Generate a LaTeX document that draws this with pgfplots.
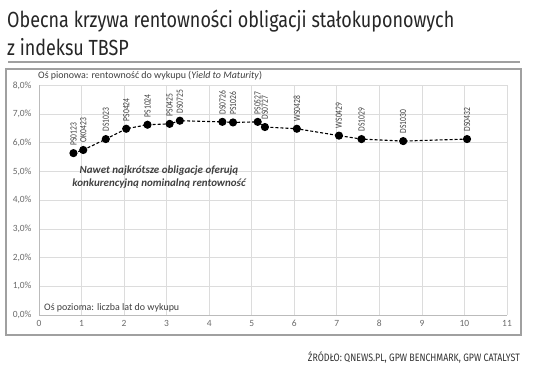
\documentclass[border=0pt]{standalone}
\usepackage{pgfplots}
\pgfplotsset{compat=1.18}
\usepackage{pgfplotstable}
\usepackage{fontspec}
\setmainfont{Carlito}
\newfontfamily\titlefont[FakeStretch=0.82]{Fira Sans}
\newfontfamily\narrowfont[FakeStretch=0.8]{Carlito}
\definecolor{gridc}{HTML}{DCDCDC}
\definecolor{axisc}{HTML}{BBBBBB}
\definecolor{framec}{HTML}{A0A0A0}
\definecolor{tickc}{HTML}{6A6A6A}
\definecolor{txtc}{HTML}{404040}
\pgfplotstableread{
x y label
0.81 5.64 PS0123
1.04 5.75 OK0423
1.57 6.13 DS1023
2.05 6.49 PS0424
2.55 6.63 PS1024
3.07 6.66 PS0425
3.31 6.77 DS0725
4.31 6.73 DS0726
4.56 6.71 PS1026
5.14 6.73 PS0527
5.31 6.55 DS0727
6.06 6.49 WS0428
7.05 6.25 WS0429
7.58 6.13 DS1029
8.56 6.06 DS1030
10.06 6.13 DS0432
}\bonds
\begin{document}
\begin{tikzpicture}
\begin{scope}[x=1bp,y=1bp]
\useasboundingbox (0,0) rectangle (536,-383);
\fill[white] (0,0) rectangle (536,-383);
\node[anchor=base west, inner sep=0, font=\titlefont\fontsize{22}{26}\selectfont, text=black!85] at (7,-27) {Obecna krzywa rentowności obligacji stałokuponowych};
\node[anchor=base west, inner sep=0, font=\titlefont\fontsize{22}{26}\selectfont, text=black!85] at (7,-55) {z indeksu TBSP};
\draw[framec, line width=1.5bp] (8,-62) -- (520,-62);
\draw[framec, line width=1.5bp] (6,-69) rectangle (521,-335);
\end{scope}
\begin{axis}[
  at={(39bp,-315bp)}, anchor=south west,
  scale only axis, width=468bp, height=229.6bp,
  xmin=0, xmax=11, ymin=0, ymax=8,
  xtick={0,...,11}, ytick={0,...,8},
  major tick length=0pt,
  grid=major,
  major grid style={gridc, line width=0.7bp},
  axis lines*=left,
  axis line style={axisc, line width=0.8bp},
  /pgf/number format/assume math mode=true,
  tick label style={font=\fontsize{9.5}{10}\selectfont, text=tickc},
  yticklabel={\pgfmathprintnumber[fixed,fixed zerofill,precision=1,use comma]{\tick}\%},
  yticklabel style={xshift=-4bp},
  xticklabel style={yshift=-2bp},
  clip=false,
]
\addplot[black, line width=1.1bp, dash pattern=on 3bp off 2bp,
  mark=*, mark size=3.5bp, mark options={solid, fill=black},
  point meta=explicit symbolic,
  nodes near coords={\pgfplotspointmeta},
  nodes near coords style={font=\narrowfont\fontsize{9.5}{10}\selectfont, text=txtc, rotate=90, anchor=west, inner xsep=7bp, inner ysep=0pt},
] table[x=x, y=y, meta=label] {\bonds};
\end{axis}
\begin{scope}[x=1bp,y=1bp]
\node[anchor=west, inner sep=0, font=\fontsize{10}{12}\selectfont, text=txtc] at (38,-76) {Oś pionowa: rentowność do wykupu (\textit{Yield to Maturity})};
\node[anchor=west, inner sep=0, font=\fontsize{10}{12}\selectfont, text=txtc] at (44,-308) {Oś pozioma: liczba lat do wykupu};
\node[align=center, inner sep=0, font=\bfseries\itshape\fontsize{11}{13}\selectfont, text=txtc] at (159,-177.5) {Nawet najkrótsze obligacje oferują\\konkurencyjną nominalną rentowność};
\node[anchor=east, inner sep=0, font=\titlefont\fontsize{10.8}{12}\selectfont, text=black!80] at (520,-357) {ŹRÓDŁO: QNEWS.PL, GPW BENCHMARK, GPW CATALYST};
\end{scope}
\end{tikzpicture}
\end{document}
